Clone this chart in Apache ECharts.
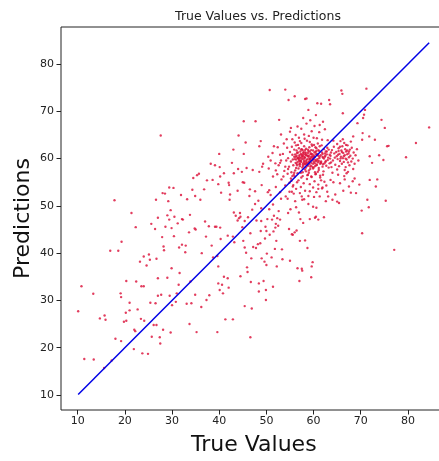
<!DOCTYPE html>
<html>
<head>
<meta charset="utf-8">
<script src="https://cdn.jsdelivr.net/npm/echarts@6/dist/echarts.min.js"></script>
<style>html,body{margin:0;padding:0;background:#fff;}#c{width:439px;height:461px;}</style>
</head>
<body>
<div id="c"></div>
<script>
const titleText = "True Values vs. Predictions";
const xName = "True Values";
const yName = "Predictions";
const tickValues = [10, 20, 30, 40, 50, 60, 70, 80];
const identityLine = [[10.1, 10.1], [84.5, 84.5]];

const sparsePoints = [
[10.1,27.7],[10.8,33],[11.4,17.6],[13.4,17.5],[13.3,31.4],[14.7,26.2],[15.7,26.8],[15.9,25.9],[15.6,15.7],[16.9,40.5],[17.2,17.3],[17.8,51.2],[18.0,21.9],[18.6,40.5],[19.1,31.5],[19.2,30.7],[19.3,42.4],[19.2,21.4],[19.8,25.5],[20.3,25.7],[20.3,34.1],[20.2,27.4],[21.0,29.5],[21.0,27.9],[21.4,48.5],[21.9,19.7],[22.0,23.8],[22.3,45.5],[22.4,34.0],[22.2,23.5],[22.7,28.1],[23.2,38.2],[23.5,33],[23.4,26.1],[23.7,18.8],[24.0,39.3],[24.0,33],[24.1,25.7],[24.6,37.4],[24.9,18.7],[25.1,39.7],[25.3,38.6],[25.4,29.5],[25.6,46.2],[25.7,22.3],[26.1,24.8],[26.4,45.1],[26.5,29.4],[26.6,51.3],[26.7,38.8],[26.7,24.8],[27.0,34.7],[27.0,31.0],[27.0,47.5],[27.4,22.2],[27.5,20.9],[27.6,64.9],[27.7,31.2],[27.9,43.4],[28.0,52.7],[28.1,23.8],[28.2,41.4],[28.3,40.6],[28.5,52.6],[28.6,45.6],[29.0,34.8],[29.0,48.0],[29.2,51.0],[29.4,53.9],[29.4,47.1],[29.5,31.0],[29.7,23.2],[29.9,36.8],[29.7,49.1],[29.9,45.3],[30.0,29.0],[30.3,53.8],[30.4,43.6],[30.5,47.7],[30.8,29.7],[31.0,31.5],[31.2,46.3],[31.4,33.3],[31.5,41.2],[31.6,35.8],[31.9,52.3],[32.1,47.2],[32.1,41.8],[32.3,47.1],[32.8,40.2],[32.9,41.6],[33.1,29.3],[33.2,51.4],[33.6,44.4],[33.7,25.0],[33.8,48.1],[33.9,34.0],[34.1,29.4],[34.3,53.4],[34.5,55.9],[34.8,45.2],[34.9,31.2],[34.9,52.1],[35.0,45.0],[35.2,23.3],[35.3,56.5],[35.7,56.8],[36.0,51.3],[36.2,28.6],[36.3,40.0],[36.8,53.5],[37.0,46.7],[37.2,43.5],[37.3,30.1],[37.4,55.4],[37.8,45.7],[37.9,31.1],[38.2,58.9],[38.4,41.6],[38.6,55.5],[38.7,39.1],[39.1,58.6],[39.1,45.6],[39.4,45.6],[39.6,39.4],[39.6,23.3],[39.8,54.6],[39.8,37.2],[39.8,33.6],[40.0,61.0],[40.1,58.2],[40.1,32.2],[40.2,56.2],[40.2,45.4],[40.3,43.0],[40.4,52.8],[40.6,33.3],[40.8,31.5],[41.0,35.0],[41.0,56.9],[41.3,26.0],[41.8,34.7],[41.8,43.7],[42.0,32.7],[42.0,54.9],[42.1,54.4],[42.2,51.3],[42.3,52.4],[42.7,59.1],[42.9,26.0],[42.9,43.5],[43.0,61.9],[43.1,48.6],[43.1,56.9],[43.2,42.3],[43.5,47.9],[43.9,53.2],[43.9,46.9],[44.0,57.8],[44.1,64.9],[44.2,47.4],[44.4,48.5],[44.5,47.7],[44.5,35.1],[44.8,57.2],[44.9,45.5],[45.0,55.0],[45.1,42.6],[45.2,67.9],[45.2,61.0],[45.3,54.9],[45.4,41.2],[45.4,28.8],[45.4,46.8],[45.6,63.4],[45.7,40.1],[45.8,58.0],[45.9,37.0],[46.0,36.0],[46.1,47.6],[46.4,52.1],[46.5,53.5],[46.6,44.2],[46.6,22.2],[46.7,33.9],[46.8,38.9],[46.9,28.3],[47.0,49.2],[47.1,57.6],[47.2,41.3],[47.6,53.1],[47.6,50.4],[47.7,67.9],[47.8,41.1],[47.9,46.9],[48.2,41.9],[48.3,51.1],[48.4,33.6],[48.4,31.9],[48.5,62.6],[48.5,57.2],[48.7,42.1],[48.8,44.7],[48.8,63.7],[48.9,49.5],[48.9,46.8],[49.0,38.9],[49.0,54.4],[49.1,58.3],[49.3,58.9],[49.4,34.1],[49.6,38.2],[49.7,43.1],[49.8,45.6],[49.9,32.2],[49.9,30.1],[50.0,44.7],[50.0,37.5],[50.1,39.9],[50.2,47.2],[50.3,52.9],[50.4,60.4],[50.5,57.9],[50.6,53.3],[50.6,49.3],[50.7,74.5],[50.7,43.9],[50.9,59.6],[50.9,52.3],[51.1,39.1],[51.2,47.1],[51.3,61.2],[51.4,50.3],[51.4,56.2],[51.4,32.9],[51.5,44.6],[51.6,62.6],[51.6,47.9],[51.8,40.9],[51.9,45.4],[52.0,57.5],[52.0,54.0],[52.0,46.2],[52.1,42.6],[52.2,37.2],[52.3,47.4],[52.4,62.4],[52.5,45.8],[52.6,48.9],[52.7,68.2],[52.9,59.1],[52.9,52.9],[52.9,47.1],[53.1,51.5],[53.1,59.6],[53.1,65.1],[53.3,40.8],[53.4,38.7],[53.6,56.2],[54.0,74.6],[54.0,58.3],[54.1,52.0],[54.3,64.1],[54.5,51.5],[54.6,48.5],[54.7,72.4],[54.8,45.1],[54.9,53.0],[55.0,38.4],[55.1,49.3],[55.2,66.5],[55.3,55.3],[55.4,44.0],[55.5,56.3],[55.6,43.9],[55.7,54.4],[55.8,52.6],[56.0,73.2],[56.0,44.4],[56.1,51.0],[56.3,49.7],[56.4,44.8],[56.6,36.8],[56.9,48.6],[57.0,34.1],[57.1,42.6],[57.2,47.2],[57.5,36.7],[57.5,52.0],[57.6,51.3],[57.6,36.3],[57.8,46.4],[58.2,72.6],[58.2,42.7],[58.5,72.7],[58.7,41.1],[58.9,70.3],[58.9,50.4],[59.2,47.2],[59.2,53.1],[59.5,34.9],[59.6,37.2],[59.8,38.1],[59.9,49.8],[60.1,51.9],[60.3,47.5],[60.5,47.7],[60.6,49.6],[60.8,71.7],[61.0,47.1],[61.0,53.6],[61.3,67.1],[61.6,71.6],[61.3,52.0],[61.9,53.9],[62.2,47.6],[62.6,51.0],[62.9,53.0],[63.3,72.4],[63.5,71.5],[63.1,52.0],[63.6,55.5],[64.0,51.3],[64.2,55.0],[64.6,52.4],[65.0,50.9],[65.4,50.6],[65.6,54.8],[65.9,74.4],[66.1,73.7],[66.2,69.6],[66.3,53.2],[66.6,55.6],[67.0,56.9],[67.5,54.1],[67.9,52.8],[68.3,55.2],[68.4,64.7],[68.7,55.8],[69.0,52.7],[69.3,67.5],[69.7,54.5],[70.2,49.0],[70.3,44.2],[70.3,64.0],[70.4,65.4],[70.5,68.6],[70.7,69.3],[70.9,70.3],[71.2,74.8],[71.4,51.3],[71.7,49.7],[71.8,64.7],[71.9,60.5],[71.9,55.5],[72.4,59.1],[73.0,64.0],[73.2,54.1],[73.5,55.6],[73.9,60.7],[74.4,68.2],[74.8,59.7],[75.1,66.5],[75.3,51.1],[75.6,62.6],[75.9,62.7],[77.1,40.7],[79.6,60.3],[81.7,63.3],[84.5,66.6],
[53.5,61.0],[54.2,59.6],[53.8,57.4],[54.4,62.3],[53.2,55.6],[54.0,54.3],[52.6,58.6],[53.7,63.2],[54.6,57.8],[52.9,60.8],[51.9,59.0],[52.3,56.7]
];

const clusterMain = [
[55.2,59.4],[55.5,60.8],[55.7,58.6],[55.9,61.9],[56.0,59.9],[56.1,57.5],[56.2,60.4],[56.3,62.8],[56.4,58.9],[56.5,61.2],[56.6,59.3],[56.7,60.1],[56.8,57.9],[56.9,62.2],[57.0,60.7],[57.1,58.4],[57.2,61.5],[57.3,59.6],[57.4,63.3],[57.5,60.3],[57.6,58.1],[57.7,61.8],[57.8,59.0],[57.9,60.9],[58.0,62.6],[58.1,58.8],[58.2,60.2],[58.3,61.3],[58.4,57.3],[58.5,59.7],[58.6,63.8],[58.7,60.6],[58.8,58.5],[58.9,61.6],[59.0,59.4],[59.1,62.4],[59.2,60.0],[59.3,57.8],[59.4,61.1],[59.5,59.1],[59.6,63.0],[59.7,60.5],[59.8,58.2],[59.9,61.7],[60.0,59.8],[60.1,62.9],[60.2,60.3],[60.3,57.1],[60.4,61.4],[60.5,59.5],[60.6,62.2],[60.7,58.7],[60.8,60.8],[60.9,59.2],[61.0,61.8],[61.1,57.6],[61.2,60.1],[61.3,62.6],[61.4,58.9],[61.5,60.7],[61.6,59.4],[61.8,61.3],[61.9,58.3],[62.0,60.2],[62.2,62.0],[62.3,59.0],[62.5,60.6],[62.7,58.5],[62.8,61.5],[63.0,59.7],
[54.6,60.1],[54.8,58.3],[55.0,61.4],[55.3,57.1],[55.4,62.5],[55.6,59.8],[55.8,56.6],[56.0,63.4],[56.1,60.9],[56.3,58.0],[56.4,61.7],[56.6,56.9],[56.7,62.9],[56.8,60.0],[57.0,58.8],[57.1,63.7],[57.2,59.5],[57.3,57.0],[57.5,62.0],[57.6,60.6],[57.7,56.3],[57.8,61.2],[58.0,59.3],[58.1,64.2],[58.2,57.7],[58.3,60.8],[58.4,62.1],[58.6,59.0],[58.7,56.5],[58.8,61.9],[58.9,60.4],[59.0,57.5],[59.2,63.5],[59.3,59.6],[59.4,60.9],[59.5,56.2],[59.7,62.7],[59.8,59.9],[59.9,57.9],[60.0,64.4],[60.1,60.6],[60.3,58.4],[60.4,62.4],[60.5,56.8],[60.7,61.0],[60.8,59.6],[60.9,63.2],[61.1,58.0],[61.2,61.6],[61.4,56.4],[61.5,59.2],[61.7,62.8],[61.9,60.4],[62.1,57.3],[62.4,61.1],[62.6,59.5],[62.9,62.3],[63.2,58.1],[63.4,60.8],[63.7,59.2],
[56.2,59.1],[56.4,60.6],[56.5,58.6],[56.7,61.3],[56.9,59.7],[57.0,60.4],[57.1,58.9],[57.3,61.0],[57.4,59.3],[57.5,60.8],[57.6,59.9],[57.7,58.7],[57.8,60.5],[57.9,61.4],[58.0,59.6],[58.1,60.3],[58.2,58.9],[58.3,61.1],[58.4,59.4],[58.5,60.7],[58.6,58.6],[58.7,59.9],[58.8,61.2],[58.9,59.2],[59.0,60.6],[59.1,58.8],[59.2,61.5],[59.3,59.9],[59.4,60.3],[59.5,58.5],[59.6,61.0],[59.7,59.6],[59.8,60.9],[59.9,58.9],[60.0,60.4],[60.1,59.3],[60.2,61.3],[60.4,59.7],[60.5,60.9],[60.6,58.6],[60.8,59.9],[61.0,60.6],[56.6,60.2],[57.2,60.1],[57.9,60.0],[58.5,59.1],[59.1,59.9],[59.7,60.2],[60.3,59.0],[55.9,60.4],[56.3,59.8],[57.0,59.4],[57.8,58.4],[58.4,58.1],[59.3,58.3],[60.0,58.1],[58.2,61.8],[57.4,61.9],[59.5,61.8],[60.6,61.6]
];

const clusterHalo = [
[55.2,55.8],[55.6,54.1],[56.0,56.2],[56.3,53.6],[56.8,55.4],[57.1,52.7],[57.4,56.0],[57.9,54.8],[58.2,53.2],[58.6,55.7],[58.9,52.1],[59.2,54.6],[59.6,56.1],[59.9,53.9],[60.2,55.2],[60.6,52.9],[61.0,54.5],[61.4,56.0],[61.8,53.7],[62.3,55.1],[55.9,57.0],[56.5,55.0],[57.7,57.1],[58.0,51.4],[59.0,57.0],[60.4,56.7],[61.6,55.4],[57.3,54.0],[58.8,56.6],[60.9,57.2],[54.5,56.8],[54.9,54.9],[55.4,53.0],[62.0,56.6],[62.7,54.3],
[55.5,64.1],[56.2,65.0],[56.9,64.4],[57.4,66.3],[58.0,65.1],[58.5,67.4],[59.0,64.8],[59.6,65.8],[60.2,66.9],[60.7,64.3],[61.2,65.6],[61.8,64.0],[62.4,66.2],[63.0,63.9],[57.8,68.6],[59.3,68.1],[60.5,69.2],[56.6,66.8],[62.0,67.8],[55.0,65.7]
];

const clusterRight = [
[63.6,60.6],[63.9,61.8],[64.1,59.6],[64.3,62.5],[64.5,60.2],[64.6,58.7],[64.8,61.4],[65.0,63.1],[65.1,59.9],[65.2,60.8],[65.3,62.2],[65.4,58.4],[65.5,61.0],[65.6,59.5],[65.7,63.7],[65.8,60.4],[65.9,61.7],[66.0,58.9],[66.1,62.6],[66.2,60.1],[66.3,61.2],[66.4,59.3],[66.5,63.3],[66.6,60.7],[66.7,62.0],[66.8,58.2],[66.9,61.5],[67.0,59.8],[67.1,60.9],[67.2,62.8],[67.3,59.2],[67.4,61.1],[67.5,60.3],[67.6,58.6],[67.7,61.9],[67.8,60.6],[68.0,59.4],[68.1,62.3],[68.3,60.0],[68.5,61.3],[68.7,58.9],[68.9,60.7],[69.2,62.0],[69.5,59.6],[64.9,60.5],[65.3,61.6],[65.7,60.0],[66.0,61.4],[66.4,60.5],[66.8,60.0],[67.1,61.7],[67.5,61.5],[66.2,64.1],[65.0,57.7],[64.2,63.8],[66.6,57.6],[67.9,63.6],[65.6,62.5],[64.4,61.1],[66.9,62.9],[63.8,58.2],[68.4,57.8],[65.2,56.6],[66.5,56.3],[67.3,57.2],[64.0,57.0],
[61.3,60.4],[61.6,59.1],[61.9,61.0],[62.2,60.0],[62.5,59.3],[62.8,60.9],[63.1,60.2],[63.4,59.0],[63.7,61.3],[62.0,58.8],[62.6,61.5],[63.2,61.9],[61.1,59.5],[62.4,60.4],[63.5,60.0]
];

const allPoints = sparsePoints.concat(clusterMain, clusterHalo, clusterRight);

const chart = echarts.init(document.getElementById('c'), null, {renderer: 'canvas'});
const font = 'DejaVu Sans';
const axisCommon = {
  type: 'value',
  splitLine: {show: false},
  axisLine: {show: false},
  axisTick: {show: true, inside: false, length: 4.5, lineStyle: {color: '#222', width: 1}, customValues: tickValues},
  axisLabel: {color: '#222', fontSize: 11, fontFamily: font, customValues: tickValues},
  nameLocation: 'middle',
  nameTextStyle: {color: '#111', fontSize: 22, fontFamily: font}
};
chart.setOption({
  animation: false,
  backgroundColor: '#fff',
  title: {
    text: titleText, left: 253, top: 5, textAlign: 'center',
    textStyle: {fontSize: 12.5, fontWeight: 'normal', color: '#222', fontFamily: font}
  },
  grid: {left: 61, top: 27, width: 385.6, height: 383, show: true, borderColor: '#222', borderWidth: 1, backgroundColor: '#fff', outerBoundsMode: 'none', containLabel: false},
  xAxis: Object.assign({}, axisCommon, {
    min: 6.46, max: 88.2, name: xName, nameGap: 24,
    axisLabel: Object.assign({}, axisCommon.axisLabel, {margin: 6})
  }),
  yAxis: Object.assign({}, axisCommon, {
    min: 6.82, max: 87.84, name: yName, nameGap: 27, nameRotate: 90, nameMoveOverlap: false,
    axisLabel: Object.assign({}, axisCommon.axisLabel, {margin: 7})
  }),
  series: [
    {
      type: 'scatter', data: allPoints, symbolSize: 2.4,
      itemStyle: {color: '#dc143c', opacity: 0.82}, z: 2
    },
    {
      type: 'line', data: identityLine, symbol: 'none', z: 3,
      lineStyle: {color: '#0000e6', width: 1.5}
    }
  ]
});
</script>
</body>
</html>
